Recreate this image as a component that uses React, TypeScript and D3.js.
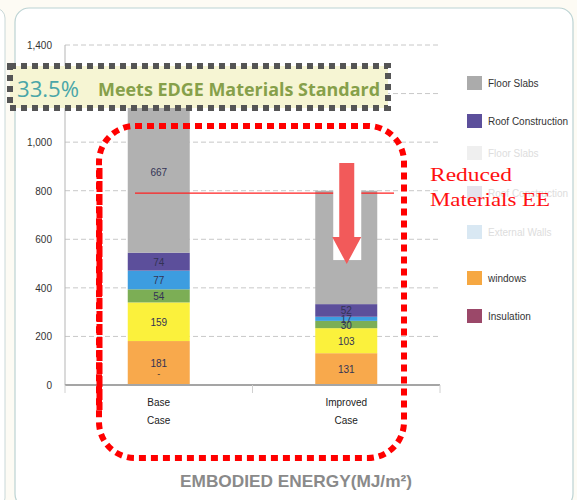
import React, { useEffect, useRef } from 'react';
import * as d3 from 'd3';

const categories = ['Base Case', 'Improved Case'];
const seriesKeys = ['windows', 'Walls', 'Finishes', 'External Walls', 'Roof Construction', 'Floor Slabs'];
const seriesColors = ['#f8a94c', '#fbf13c', '#7cae55', '#3d9de0', '#5c4f9b', '#b1b1b1'];
const baseValues = [181, 159, 54, 77, 74, 667];
const improvedValues = [131, 103, 30, 17, 52, 467];
const yTicks = [0, 200, 400, 600, 800, 1000, 1200, 1400];

const legendItems = ['Floor Slabs', 'Roof Construction', 'Floor Slabs', 'Roof Construction', 'External Walls', 'windows', 'Insulation'];
const legendColors = ['#ababab', '#5c4f9b', '#efefef', '#e4e3ec', '#d9e8f3', '#f6a842', '#9b4869'];
const legendText = ['#333', '#333', '#ddd', '#ddd', '#ddd', '#333', '#333'];

const bannerPct = '33.5%';
const bannerText = 'Meets EDGE Materials Standard';
const reducedLine = 790;
const arrowTop = 914;
const arrowBottom = 498;

export default function App() {
  const svgRef = useRef<SVGSVGElement>(null);

  useEffect(() => {
    if (!svgRef.current) return;
    const svg = d3.select(svgRef.current);
    svg.selectAll('*').remove();

    const width = 577;
    const height = 500;
    const margin = { top: 45, right: 137, bottom: 115, left: 65 };
    const font = 'Liberation Sans, Arial, sans-serif';

    // page background and frames
    svg.append('rect').attr('width', width).attr('height', height).attr('fill', '#fdfbf4');
    svg.append('rect').attr('x', -20).attr('y', 8).attr('width', 25).attr('height', 500)
      .attr('rx', 10).attr('fill', '#fff').attr('stroke', '#c9d8d8');
    svg.append('rect').attr('x', 15).attr('y', 8).attr('width', 558).attr('height', 500)
      .attr('rx', 14).attr('fill', '#fff').attr('stroke', '#bcd3d3').attr('stroke-width', 1.2);

    const x = d3.scaleBand()
      .domain(categories)
      .range([margin.left, width - margin.right])
      .paddingInner(0)
      .paddingOuter(0);

    const y = d3.scaleLinear()
      .domain([0, 1400])
      .range([height - margin.bottom, margin.top]);

    const barWidth = 62;
    const x0 = margin.left;
    const x1 = width - margin.right;

    // gridlines
    svg.append('g')
      .selectAll('line')
      .data(yTicks.filter(t => t > 0))
      .join('line')
      .attr('x1', x0).attr('x2', x1)
      .attr('y1', d => y(d)).attr('y2', d => y(d))
      .attr('stroke', '#c8c8c8')
      .attr('stroke-dasharray', '5,3');

    // y axis
    svg.append('line')
      .attr('x1', x0).attr('x2', x0)
      .attr('y1', y(1400)).attr('y2', y(0))
      .attr('stroke', '#b5b5b5');

    svg.append('g')
      .selectAll('text')
      .data(yTicks)
      .join('text')
      .attr('x', 52)
      .attr('y', d => y(d) + 4)
      .attr('text-anchor', 'end')
      .attr('font-family', font)
      .attr('font-size', 10)
      .attr('fill', '#333')
      .text(d => d3.format(',')(d));

    // stacks
    const rows = [baseValues, improvedValues].map((vals, i) => {
      const row: any = { category: categories[i] };
      seriesKeys.forEach((k, j) => (row[k] = vals[j]));
      return row;
    });
    const series = d3.stack().keys(seriesKeys)(rows);

    const g = svg.append('g');
    series.forEach((s, si) => {
      g.append('g')
        .selectAll('rect')
        .data(s)
        .join('rect')
        .attr('x', d => (x(d.data.category as string) as number) + x.bandwidth() / 2 - barWidth / 2)
        .attr('width', barWidth)
        .attr('y', d => y(d[1]))
        .attr('height', d => y(d[0]) - y(d[1]))
        .attr('fill', seriesColors[si]);
    });

    series.forEach(s => {
      g.append('g')
        .selectAll('text')
        .data(s)
        .join('text')
        .attr('x', d => (x(d.data.category as string) as number) + x.bandwidth() / 2)
        .attr('y', d => y((d[0] + d[1]) / 2) + 4)
        .attr('text-anchor', 'middle')
        .attr('font-family', font)
        .attr('font-size', 10)
        .attr('fill', '#333355')
        .text(d => d[1] - d[0]);
    });

    // small dash under base windows label
    svg.append('text')
      .attr('x', (x(categories[0]) as number) + x.bandwidth() / 2)
      .attr('y', y(baseValues[0] / 2) + 14)
      .attr('text-anchor', 'middle')
      .attr('font-family', font)
      .attr('font-size', 9)
      .attr('fill', '#333')
      .text('-');

    // x axis
    svg.append('line')
      .attr('x1', x0).attr('x2', x1)
      .attr('y1', y(0)).attr('y2', y(0))
      .attr('stroke', '#a5a5a5').attr('stroke-width', 2);
    svg.append('g')
      .selectAll('line')
      .data([x0, x0 + x.bandwidth(), x1])
      .join('line')
      .attr('x1', d => d).attr('x2', d => d)
      .attr('y1', y(0)).attr('y2', y(0) + 8)
      .attr('stroke', '#d0d0d0');

    categories.forEach(c => {
      const t = svg.append('text')
        .attr('x', (x(c) as number) + x.bandwidth() / 2)
        .attr('y', y(0) + 21)
        .attr('text-anchor', 'middle')
        .attr('font-family', font)
        .attr('font-size', 10)
        .attr('fill', '#222');
      const parts = c.split(' ');
      parts.forEach((p, i) => {
        t.append('tspan')
          .attr('x', (x(c) as number) + x.bandwidth() / 2)
          .attr('dy', i === 0 ? 0 : 18)
          .text(p);
      });
    });

    // axis title
    svg.append('text')
      .attr('x', 296)
      .attr('y', 487)
      .attr('text-anchor', 'middle')
      .attr('font-family', font)
      .attr('font-size', 17)
      .attr('font-weight', 'bold')
      .attr('fill', '#8a8a8a')
      .attr('textLength', 232)
      .attr('lengthAdjust', 'spacingAndGlyphs')
      .text('EMBODIED ENERGY(MJ/m²)');

    // legend
    const lg = svg.append('g');
    const legendY = [83, 121, 153, 193, 232, 278, 316];
    legendItems.forEach((name, i) => {
      lg.append('rect')
        .attr('x', 467).attr('y', legendY[i] - 7)
        .attr('width', 15).attr('height', 14)
        .attr('fill', legendColors[i]);
      lg.append('text')
        .attr('x', 488).attr('y', legendY[i] + 4)
        .attr('font-family', font)
        .attr('font-size', 10)
        .attr('fill', legendText[i])
        .text(name);
    });

    // reduced line + arrow
    const cx = (x(categories[1]) as number) + x.bandwidth() / 2;
    svg.append('line')
      .attr('x1', 135).attr('x2', 394)
      .attr('y1', y(reducedLine)).attr('y2', y(reducedLine))
      .attr('stroke', '#ff2020').attr('stroke-width', 1.2);

    svg.append('rect')
      .attr('x', cx - 13).attr('width', 28)
      .attr('y', y(arrowTop)).attr('height', y(arrowBottom) - y(arrowTop) - 4)
      .attr('fill', '#fff');
    const headY = y(arrowBottom) - 27;
    const arrowPath = d3.path();
    arrowPath.moveTo(cx - 7, y(arrowTop));
    arrowPath.lineTo(cx + 8, y(arrowTop));
    arrowPath.lineTo(cx + 8, headY);
    arrowPath.lineTo(cx + 15, headY);
    arrowPath.lineTo(cx + 0.5, y(arrowBottom));
    arrowPath.lineTo(cx - 14, headY);
    arrowPath.lineTo(cx - 7, headY);
    arrowPath.closePath();
    svg.append('path').attr('d', arrowPath.toString()).attr('fill', '#f25a5a');

    const serif = 'Liberation Serif, Times New Roman, serif';
    svg.append('text')
      .attr('x', 430).attr('y', 181)
      .attr('font-family', serif).attr('font-size', 19).attr('fill', '#ff1010')
      .attr('textLength', 82).attr('lengthAdjust', 'spacingAndGlyphs')
      .text('Reduced');
    svg.append('text')
      .attr('x', 430).attr('y', 206)
      .attr('font-family', serif).attr('font-size', 19).attr('fill', '#ff1010')
      .attr('textLength', 120).attr('lengthAdjust', 'spacingAndGlyphs')
      .text('Materials EE');

    // red dotted outline
    svg.append('rect')
      .attr('x', 99).attr('y', 126)
      .attr('width', 305).attr('height', 332)
      .attr('rx', 36)
      .attr('fill', 'none')
      .attr('stroke', '#ff0000')
      .attr('stroke-width', 6)
      .attr('stroke-dasharray', '7,5');
    svg.append('line')
      .attr('x1', 99.5).attr('x2', 99.5)
      .attr('y1', 168).attr('y2', 410)
      .attr('stroke', '#ff0000')
      .attr('stroke-width', 6)
      .attr('stroke-dasharray', '11,2');

    // banner
    svg.append('rect')
      .attr('x', 10).attr('y', 66)
      .attr('width', 378).attr('height', 42)
      .attr('fill', '#f6f5d3')
      .attr('stroke', '#555')
      .attr('stroke-width', 6)
      .attr('stroke-dasharray', '6,5');
    svg.append('text')
      .attr('x', 17).attr('y', 97)
      .attr('font-family', 'Open Sans, sans-serif')
      .attr('font-size', 22)
      .attr('fill', '#4aa6a8')
      .attr('textLength', 62)
      .attr('lengthAdjust', 'spacingAndGlyphs')
      .text(bannerPct);
    svg.append('text')
      .attr('x', 98).attr('y', 96)
      .attr('font-family', 'Open Sans, sans-serif')
      .attr('font-size', 18)
      .attr('font-weight', 'bold')
      .attr('fill', '#86a04a')
      .attr('textLength', 282)
      .attr('lengthAdjust', 'spacingAndGlyphs')
      .text(bannerText);
  }, []);

  return (
    <svg
      ref={svgRef}
      width={577}
      height={500}
      style={{ position: 'absolute', left: 0, top: 0 }}
    />
  );
}
